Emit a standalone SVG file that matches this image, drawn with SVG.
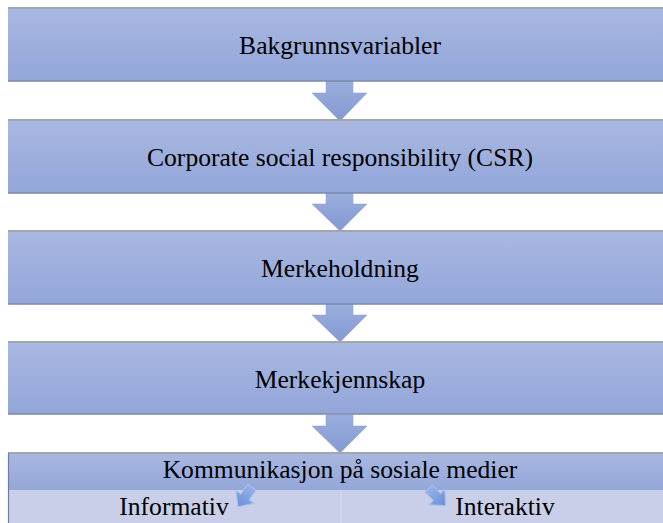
<svg xmlns="http://www.w3.org/2000/svg" width="663" height="523" viewBox="0 0 663 523">
<defs>
<linearGradient id="boxg" x1="0" y1="0" x2="0" y2="1">
<stop offset="0" stop-color="#a9b8e1"/>
<stop offset="1" stop-color="#93a6d9"/>
</linearGradient>
<linearGradient id="arrg" x1="0" y1="0" x2="0" y2="1">
<stop offset="0" stop-color="#9aaedd"/>
<stop offset="1" stop-color="#8599d3"/>
</linearGradient>
<linearGradient id="sarrg" x1="0" y1="0" x2="0" y2="1">
<stop offset="0" stop-color="#96b1e6"/>
<stop offset="1" stop-color="#6a8fd7"/>
</linearGradient>
</defs>
<style>
.box{fill:url(#boxg);}
.topb{stroke:#a3a6ad;stroke-width:2;}
.botb{stroke:#7d89a9;stroke-width:1.5;}
.arr{fill:url(#arrg);stroke:#8a9ccf;stroke-width:0.5;}
.sarr{fill:url(#sarrg);stroke:#a9bfea;stroke-width:1;}
text{font-family:'Liberation Serif','Times New Roman',serif;font-size:25.6px;fill:#000;text-anchor:middle;}
</style>
<rect width="663" height="523" fill="#ffffff"/>
<g id="connectors">
<polygon class="arr" points="326,81 353,81 353,93 367,93 340,121 312,93 326,93"/>
<polygon class="arr" points="326,192 353,192 353,204 367,204 340,231 312,204 326,204"/>
<polygon class="arr" points="326,304 353,304 353,315 367,315 340,342 312,315 326,315"/>
<polygon class="arr" points="326,415 353,415 353,426 367,426 340,453 312,426 326,426"/>
</g>
<g id="node1">
<rect class="box" x="8" y="8" width="660" height="73"/>
<line class="topb" x1="8" y1="8" x2="663" y2="8"/>
<line class="botb" x1="8" y1="81" x2="663" y2="81"/>
<text x="340" y="54">Bakgrunnsvariabler</text>
</g>
<g id="node2">
<rect class="box" x="8" y="120" width="660" height="73"/>
<line class="topb" x1="8" y1="120" x2="663" y2="120"/>
<line class="botb" x1="8" y1="193" x2="663" y2="193"/>
<text x="340" y="166">Corporate social responsibility (CSR)</text>
</g>
<g id="node3">
<rect class="box" x="8" y="231" width="660" height="73"/>
<line class="topb" x1="8" y1="231" x2="663" y2="231"/>
<line class="botb" x1="8" y1="304" x2="663" y2="304"/>
<text x="340" y="277">Merkeholdning</text>
</g>
<g id="node4">
<rect class="box" x="8" y="342" width="660" height="72"/>
<line class="topb" x1="8" y1="342" x2="663" y2="342"/>
<line class="botb" x1="8" y1="414" x2="663" y2="414"/>
<text x="340" y="388">Merkekjennskap</text>
</g>
<g id="node5">
<rect class="box" x="8" y="453" width="660" height="38"/>
<rect x="8" y="490" width="660" height="33" fill="#c9cfe8"/>
<line x1="341" y1="490" x2="341" y2="523" stroke="#d6dbef" stroke-width="1"/>
<line class="topb" x1="8" y1="453" x2="663" y2="453"/>
<line x1="8.5" y1="453" x2="8.5" y2="523" stroke="#6f7d9e" stroke-width="1.2"/>
<text x="340" y="478">Kommunikasjon på sosiale medier</text>
<text x="174" y="515">Informativ</text>
<text x="505" y="515">Interaktiv</text>
</g>
<g id="node5-arrows">
<polygon class="sarr" transform="translate(245,497) rotate(35)" points="-5,-12 5,-12 5,0 11,0 0,12 -11,0 -5,0"/>
<polygon class="sarr" transform="translate(437,497) rotate(-45)" points="-5,-12 5,-12 5,0 11,0 0,12 -11,0 -5,0"/>
</g>
</svg>
